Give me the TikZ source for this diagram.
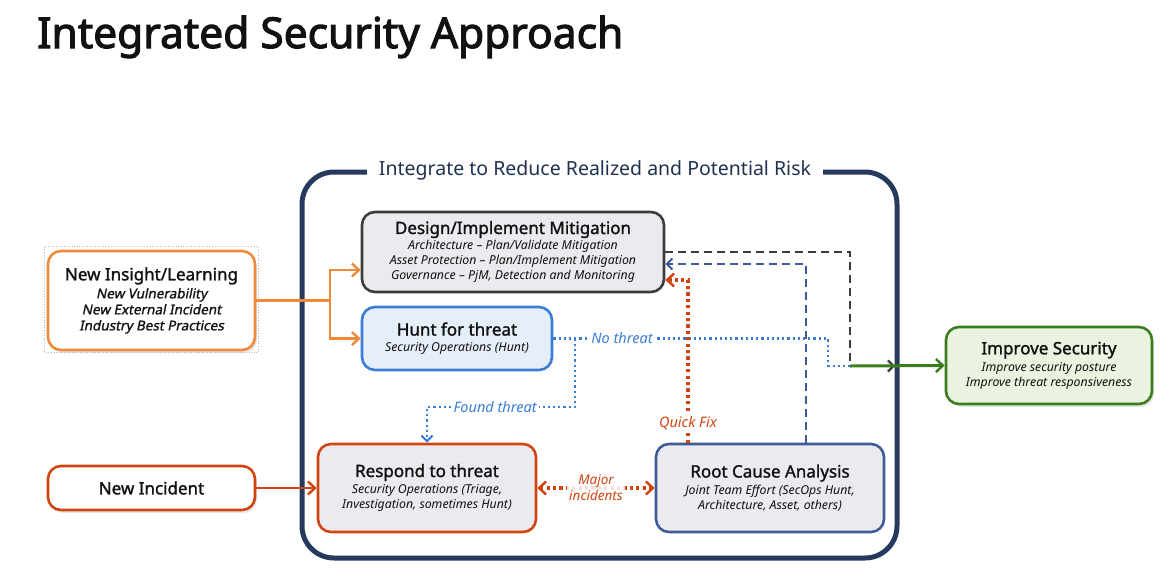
\documentclass[tikz,border=0pt]{standalone}
\usepackage{fontspec}
\setmainfont{Noto Sans}
\newfontfamily\headfont{Noto Sans}[FakeBold=1.5]
\newfontfamily\leadfont{Noto Sans}[FakeBold=1.2, FakeSlant=0.2]
\newfontfamily\bigfont{Noto Sans}[FakeBold=2.5]
\usetikzlibrary{arrows.meta, shadows}

\definecolor{zonenavy}{RGB}{38,58,94}
\definecolor{insightorange}{RGB}{240,137,58}
\definecolor{incidentred}{RGB}{208,68,16}
\definecolor{designgray}{RGB}{60,60,60}
\definecolor{huntblue}{RGB}{58,125,214}
\definecolor{rcablue}{RGB}{62,90,152}
\definecolor{improvegreen}{RGB}{59,125,28}
\definecolor{boxfill}{RGB}{235,235,239}
\definecolor{huntfill}{RGB}{230,238,250}
\definecolor{improvefill}{RGB}{234,243,223}
\definecolor{inktext}{RGB}{17,17,17}

\newcommand{\boxhead}[1]{{\headfont\upshape\fontsize{17}{18}\selectfont #1}}
\newcommand{\subsize}{\fontsize{12.3}{15}\selectfont\itshape}

\tikzset{
    box/.style={draw, rounded corners=13pt, line width=2.6pt, align=center,
        inner sep=0pt, text=inktext, font=\subsize},
    softshadow/.style={drop shadow={opacity=0.18, shadow xshift=2pt, shadow yshift=-3pt}},
    tip/.style={-{Straight Barb[length=7pt, width=13pt, line width=2.4pt]}},
    smalltip/.style={-{Straight Barb[length=5.5pt, width=11pt, line width=2.2pt]}},
    flowlabel/.style={fill=white, inner sep=2pt, font=\fontsize{14.5}{16}\selectfont\itshape}
}

\begin{document}
\begin{tikzpicture}[x=1pt, y=-1pt]
    \useasboundingbox (0,0) rectangle (1171,582);

    % title
    \node[anchor=base west, inner sep=0pt, text=inktext, font=\bigfont\fontsize{42.5}{44}\selectfont]
        (title) at (37,48) {Integrated Security Approach};

    % integration zone
    \node[draw=zonenavy, line width=5pt, rounded corners=32pt, minimum width=595pt,
        minimum height=386pt, inner sep=0pt] (zone) at (599.5,365) {};
    \node[fill=white, inner xsep=12pt, inner ysep=2pt, text=zonenavy!85!black,
        font=\fontsize{19.5}{21}\selectfont] (zonetitle) at (595,170)
        {Integrate to Reduce Realized and Potential Risk};

    % inputs
    \node[box, draw=insightorange, fill=white, softshadow, minimum width=207pt,
        minimum height=99pt, font=\leadfont\fontsize{13.5}{16}\selectfont] (insight) at (151.5,300.5)
        {\boxhead{New Insight/Learning}\\[2pt]
         New Vulnerability\\ New External Incident\\ Industry Best Practices};
    \draw[gray!55, dotted, line width=0.6pt]
        ([xshift=-2pt, yshift=3pt]insight.north west) rectangle ([xshift=2pt, yshift=-1pt]insight.south east);
    \node[box, draw=incidentred, fill=white, softshadow, minimum width=207pt,
        minimum height=44pt] (incident) at (151.5,488) {\boxhead{New Incident}};

    % activities
    \node[box, draw=designgray, fill=boxfill, minimum width=302pt, minimum height=80pt]
        (design) at (513,252)
        {\boxhead{Design/Implement Mitigation}\\[1pt]
         Architecture -- Plan/Validate Mitigation\\
         Asset Protection -- Plan/Implement Mitigation\\
         Governance -- PjM, Detection and Monitoring};
    \node[box, draw=huntblue, fill=huntfill, minimum width=190pt, minimum height=63pt]
        (hunt) at (457,338.5)
        {\boxhead{Hunt for threat}\\[1pt]Security Operations (Hunt)};
    \node[box, draw=incidentred, fill=boxfill, minimum width=218pt, minimum height=88pt]
        (respond) at (427,488)
        {\boxhead{Respond to threat}\\[2pt]
         Security Operations (Triage,\\
         Investigation, sometimes Hunt)};
    \node[box, draw=rcablue, fill=boxfill, minimum width=228pt, minimum height=88pt]
        (rca) at (770,488)
        {\boxhead{Root Cause Analysis}\\[2pt]
         Joint Team Effort (SecOps Hunt,\\
         Architecture, Asset, others)};

    % outcome
    \node[box, draw=improvegreen, fill=improvefill, softshadow, minimum width=206pt,
        minimum height=77pt] (improve) at (1049,365.5)
        {\boxhead{Improve Security}\\[2pt]
         Improve security posture\\
         Improve threat responsiveness};

    \coordinate (split) at (330,300.5);
    \coordinate (fork) at (575,338.5);
    \coordinate (merge) at (850,366);
    \coordinate (gate) at (895,366);

    % input arrows
    \draw[insightorange, line width=2.6pt] (insight.east) -- (split);
    \draw[insightorange, line width=2.6pt, tip] (split) |- ([yshift=-18pt]design.west);
    \draw[insightorange, line width=2.6pt, tip] (split) |- (hunt.west);
    \draw[incidentred, line width=2.6pt, tip] (incident.east) -- (respond.west);

    % hunt outcomes
    \draw[huntblue, line width=2.2pt, dash pattern=on 2.2pt off 3pt]
        (hunt.east) -- node[flowlabel, text=huntblue, pos=0.25] (nothreat) {No threat}
        (828,338.5) |- (merge);
    \draw[huntblue, line width=2.2pt, dash pattern=on 2.2pt off 3pt, smalltip]
        (fork) -- (575,407) -- node[flowlabel, text=huntblue, pos=0.54] (found) {Found threat}
        (427,407) -- (respond.north);

    % feedback to mitigation
    \draw[designgray, line width=2.6pt, dash pattern=on 8pt off 5pt, smalltip]
        (design.east) -| (merge) -- (gate);
    \draw[improvegreen, line width=3pt, tip] (merge) -- (improve.west);
    \draw[rcablue, line width=2.6pt, dash pattern=on 8pt off 5pt, smalltip]
        ([xshift=36pt]rca.north) |- ([yshift=-12pt]design.east);
    \draw[incidentred, line width=3.2pt, dash pattern=on 3.2pt off 3.2pt, tip]
        ([xshift=-82pt]rca.north) -- node[flowlabel, text=incidentred, pos=0.12] (quickfix) {Quick Fix}
        (688,280) -- ([yshift=-28pt]design.east);
    \draw[incidentred, line width=3.2pt, dash pattern=on 3.2pt off 3.2pt,
        {Straight Barb[length=7pt, width=13pt, line width=2.4pt]}-{Straight Barb[length=7pt, width=13pt, line width=2.4pt]}]
        (respond.east) -- node[flowlabel, fill opacity=0.85, text opacity=1, text=incidentred, align=center,
        font=\fontsize{13.5}{16}\selectfont\itshape] (major) {Major\\incidents} (rca.west);
\end{tikzpicture}
\end{document}
